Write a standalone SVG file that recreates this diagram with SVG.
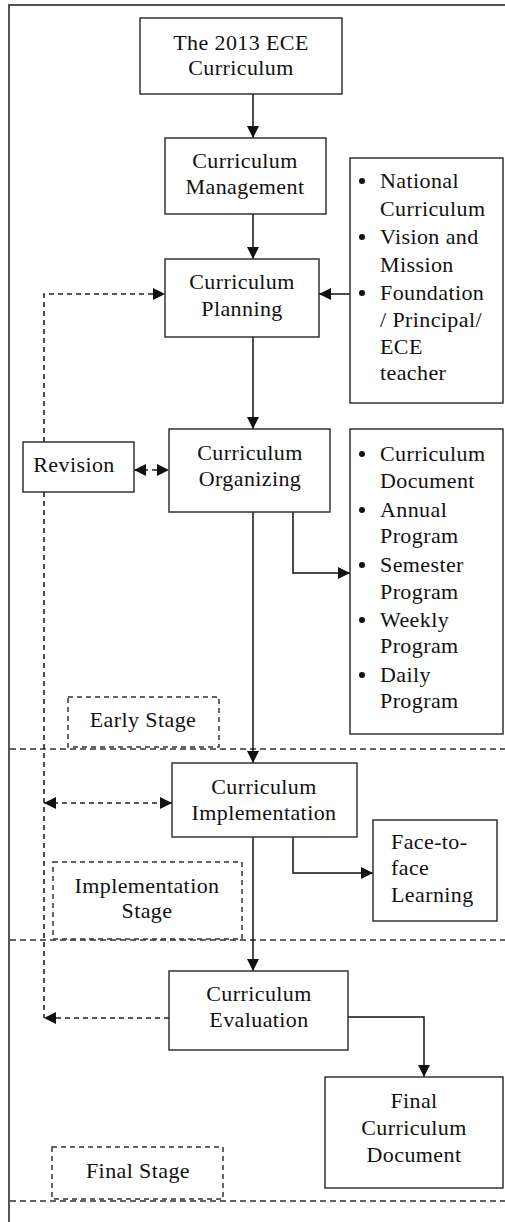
<svg xmlns="http://www.w3.org/2000/svg" width="505" height="1222" viewBox="0 0 505 1222">
<style>
.box{fill:#fff;stroke:#333;stroke-width:1.5}
.dbox{fill:none;stroke:#333;stroke-width:1.5;stroke-dasharray:5,4}
.t{font-family:"Liberation Serif","Times New Roman",serif;font-size:22px;letter-spacing:0.4px;fill:#111}
.c{text-anchor:middle}
.ln{fill:none;stroke:#111;stroke-width:1.5}
.dl{fill:none;stroke:#222;stroke-width:1.6;stroke-dasharray:5,4}
.sep{fill:none;stroke:#333;stroke-width:1.6;stroke-dasharray:6,4}
.frame{fill:none;stroke:#555;stroke-width:2}
.bul{fill:#111}
</style>
<defs>
<marker id="ah" viewBox="0 0 12 12" refX="12" refY="6" markerWidth="12" markerHeight="12" markerUnits="userSpaceOnUse" orient="auto-start-reverse">
<path d="M0,0 L12,6 L0,12 z" fill="#111"/>
</marker>
</defs>
<g id="frame">
<path class="frame" d="M505,5 H9 V1222"/>
<path class="sep" d="M10,749 H505"/>
<path class="sep" d="M10,940 H505"/>
<path class="sep" d="M10,1201 H505"/>
</g>
<g id="connectors">
<path class="ln" d="M253,94 V138" marker-end="url(#ah)"/>
<path class="ln" d="M253,214 V259" marker-end="url(#ah)"/>
<path class="ln" d="M350,294 H319" marker-end="url(#ah)"/>
<path class="ln" d="M253,337 V429" marker-end="url(#ah)"/>
<path class="ln" d="M293,512 V573 H350" marker-end="url(#ah)"/>
<path class="ln" d="M253,512 V763" marker-end="url(#ah)"/>
<path class="ln" d="M293,837 V873 H373" marker-end="url(#ah)"/>
<path class="ln" d="M253,837 V971" marker-end="url(#ah)"/>
<path class="ln" d="M348,1017 H424 V1077" marker-end="url(#ah)"/>
<path class="dl" d="M44,442 V294 H165" marker-end="url(#ah)"/>
<path class="dl" d="M44,492 V1018"/>
<path class="dl" d="M169,1018 H44" marker-end="url(#ah)"/>
<path class="dl" d="M44,803 H172" marker-start="url(#ah)" marker-end="url(#ah)"/>
<path class="dl" d="M134,470 H169" marker-start="url(#ah)" marker-end="url(#ah)"/>
</g>
<g id="n-ece">
<rect class="box" x="140" y="18" width="202" height="76"/>
<text class="t c" x="241" y="50">The 2013 ECE</text>
<text class="t c" x="241" y="75">Curriculum</text>
</g>
<g id="n-management">
<rect class="box" x="165" y="138" width="161" height="76"/>
<text class="t c" x="245" y="168">Curriculum</text>
<text class="t c" x="245" y="194">Management</text>
</g>
<g id="n-inputs">
<rect class="box" x="350" y="158" width="153" height="245"/>
<circle class="bul" cx="362" cy="181" r="3"/>
<text class="t" x="380" y="188">National</text>
<text class="t" x="380" y="216">Curriculum</text>
<circle class="bul" cx="362" cy="237" r="3"/>
<text class="t" x="380" y="244">Vision and</text>
<text class="t" x="380" y="272">Mission</text>
<circle class="bul" cx="362" cy="293" r="3"/>
<text class="t" x="380" y="300">Foundation</text>
<text class="t" x="380" y="327">/ Principal/</text>
<text class="t" x="380" y="354">ECE</text>
<text class="t" x="380" y="380">teacher</text>
</g>
<g id="n-planning">
<rect class="box" x="165" y="259" width="154" height="78"/>
<text class="t c" x="242" y="289">Curriculum</text>
<text class="t c" x="242" y="316">Planning</text>
</g>
<g id="n-revision">
<rect class="box" x="23" y="442" width="111" height="50"/>
<text class="t c" x="74" y="472">Revision</text>
</g>
<g id="n-organizing">
<rect class="box" x="169" y="429" width="161" height="83"/>
<text class="t c" x="250" y="460">Curriculum</text>
<text class="t c" x="250" y="486">Organizing</text>
</g>
<g id="n-documents">
<rect class="box" x="350" y="429" width="153" height="305"/>
<circle class="bul" cx="362" cy="454" r="3"/>
<text class="t" x="380" y="461">Curriculum</text>
<text class="t" x="380" y="488">Document</text>
<circle class="bul" cx="362" cy="510" r="3"/>
<text class="t" x="380" y="517">Annual</text>
<text class="t" x="380" y="543">Program</text>
<circle class="bul" cx="362" cy="565" r="3"/>
<text class="t" x="380" y="572">Semester</text>
<text class="t" x="380" y="599">Program</text>
<circle class="bul" cx="362" cy="620" r="3"/>
<text class="t" x="380" y="627">Weekly</text>
<text class="t" x="380" y="653">Program</text>
<circle class="bul" cx="362" cy="675" r="3"/>
<text class="t" x="380" y="682">Daily</text>
<text class="t" x="380" y="708">Program</text>
</g>
<g id="n-early-stage">
<rect class="dbox" x="68" y="697" width="151" height="50"/>
<text class="t c" x="143" y="727">Early Stage</text>
</g>
<g id="n-implementation">
<rect class="box" x="172" y="763" width="185" height="74"/>
<text class="t c" x="264" y="794">Curriculum</text>
<text class="t c" x="264" y="820">Implementation</text>
</g>
<g id="n-face">
<rect class="box" x="373" y="820" width="124" height="101"/>
<text class="t" x="391" y="849">Face-to-</text>
<text class="t" x="391" y="875">face</text>
<text class="t" x="391" y="902">Learning</text>
</g>
<g id="n-implementation-stage">
<rect class="dbox" x="53" y="862" width="189" height="77"/>
<text class="t c" x="147" y="893">Implementation</text>
<text class="t c" x="147" y="918">Stage</text>
</g>
<g id="n-evaluation">
<rect class="box" x="169" y="971" width="179" height="79"/>
<text class="t c" x="259" y="1001">Curriculum</text>
<text class="t c" x="259" y="1027">Evaluation</text>
</g>
<g id="n-final">
<rect class="box" x="325" y="1077" width="178" height="111"/>
<text class="t c" x="414" y="1108">Final</text>
<text class="t c" x="414" y="1135">Curriculum</text>
<text class="t c" x="414" y="1162">Document</text>
</g>
<g id="n-final-stage">
<rect class="dbox" x="52" y="1147" width="171" height="52"/>
<text class="t c" x="138" y="1178">Final Stage</text>
</g>
</svg>
